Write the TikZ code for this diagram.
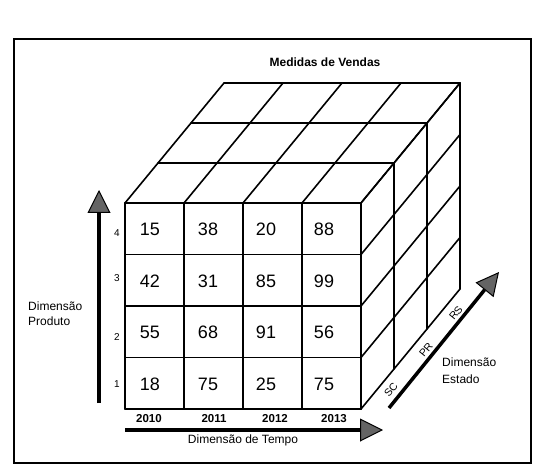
\documentclass[tikz,border=0pt]{standalone}
\usepackage{fontspec}
\setmainfont{Liberation Sans}
\usetikzlibrary{arrows.meta}
\definecolor{arrowgray}{RGB}{100,100,100}
\begin{document}
\begin{tikzpicture}[x=1bp,y=-1bp,
  cubeline/.style={line width=1.6bp, line join=round, line cap=round},
  frameline/.style={line width=2bp},
  dimarrow/.style={line width=3.5bp, -{Triangle[length=23bp,width=23bp,fill=arrowgray,line width=1bp]}},
  cellnum/.style={font=\fontsize{18bp}{20bp}\selectfont, inner sep=0pt},
  yearlbl/.style={font=\fontsize{11.5bp}{13bp}\selectfont\bfseries, inner sep=0pt},
  rowlbl/.style={font=\fontsize{10bp}{12bp}\selectfont, inner sep=0pt},
  dimlbl/.style={font=\fontsize{12bp}{15bp}\selectfont, inner sep=0pt, align=left},
  statelbl/.style={font=\fontsize{10.5bp}{12bp}\selectfont, inner sep=0pt, rotate=51}
]
\useasboundingbox (0,0) rectangle (536,465);
\draw[frameline] (14,39) rectangle (531,463);

% cube: top face and right face
\foreach \k in {0,1,2,3} {
  \draw[cubeline] ({125+33*\k},{203-40*\k}) -- ({361+33*\k},{203-40*\k});
  \draw[cubeline] ({361+33*\k},{203-40*\k}) -- ({361+33*\k},{409-40*\k});
}
\foreach \i in {0,...,4}
  \draw[cubeline] ({125+59*\i},203) -- ({224+59*\i},83);
\foreach \j in {0,...,4}
  \draw[cubeline] (361,{203+51.5*\j}) -- (460,{83+51.5*\j});
% front face grid
\foreach \i in {0,...,4}
  \draw[cubeline] ({125+59*\i},203) -- ({125+59*\i},409);
\foreach \j in {0,...,4}
  \draw[cubeline] (125,{203+51.5*\j}) -- (361,{203+51.5*\j});

% cell values
\foreach \v [count=\c] in {15,38,20,88}
  \node[cellnum] (r4c\c) at ({92+59*\c-\c},229) {\v};
\foreach \v [count=\c] in {42,31,85,99}
  \node[cellnum] (r3c\c) at ({92+59*\c-\c},281) {\v};
\foreach \v [count=\c] in {55,68,91,56}
  \node[cellnum] (r2c\c) at ({92+59*\c-\c},332) {\v};
\foreach \v [count=\c] in {18,75,25,75}
  \node[cellnum] (r1c\c) at ({92+59*\c-\c},384) {\v};

% row labels
\node[rowlbl] (row4) at (117,233) {4};
\node[rowlbl] (row3) at (117,278) {3};
\node[rowlbl] (row2) at (117,337) {2};
\node[rowlbl] (row1) at (117,384) {1};

% year labels
\node[yearlbl] (y2010) at (149,419) {2010};
\node[yearlbl] (y2011) at (214,419) {2011};
\node[yearlbl] (y2012) at (275,419) {2012};
\node[yearlbl] (y2013) at (334,419) {2013};

% state labels
\node[statelbl] (sc) at (391,390) {SC};
\node[statelbl] (pr) at (426,350) {PR};
\node[statelbl] (rs) at (456,313) {RS};

% titles
\node[font=\fontsize{12bp}{14bp}\selectfont\bfseries, inner sep=0pt] (title) at (325,62) {Medidas de Vendas};
\node[dimlbl, anchor=west] (dprod) at (28,314) {Dimensão\\Produto};
\node[font=\fontsize{12bp}{14bp}\selectfont, inner sep=0pt] (dtempo) at (243,440) {Dimensão de Tempo};
\node[dimlbl, anchor=west, font=\fontsize{12bp}{17bp}\selectfont] (destado) at (442,371) {Dimensão\\Estado};

% dimension arrows
\coordinate (pb) at (99,403);
\coordinate (pt) at (99,190);
\draw[dimarrow] (pb) -- (pt);
\coordinate (tb) at (125,430);
\coordinate (tt) at (383,430);
\draw[dimarrow] (tb) -- (tt);
\coordinate (eb) at (389,408);
\coordinate (et) at (499,272);
\draw[dimarrow] (eb) -- (et);
\end{tikzpicture}
\end{document}
